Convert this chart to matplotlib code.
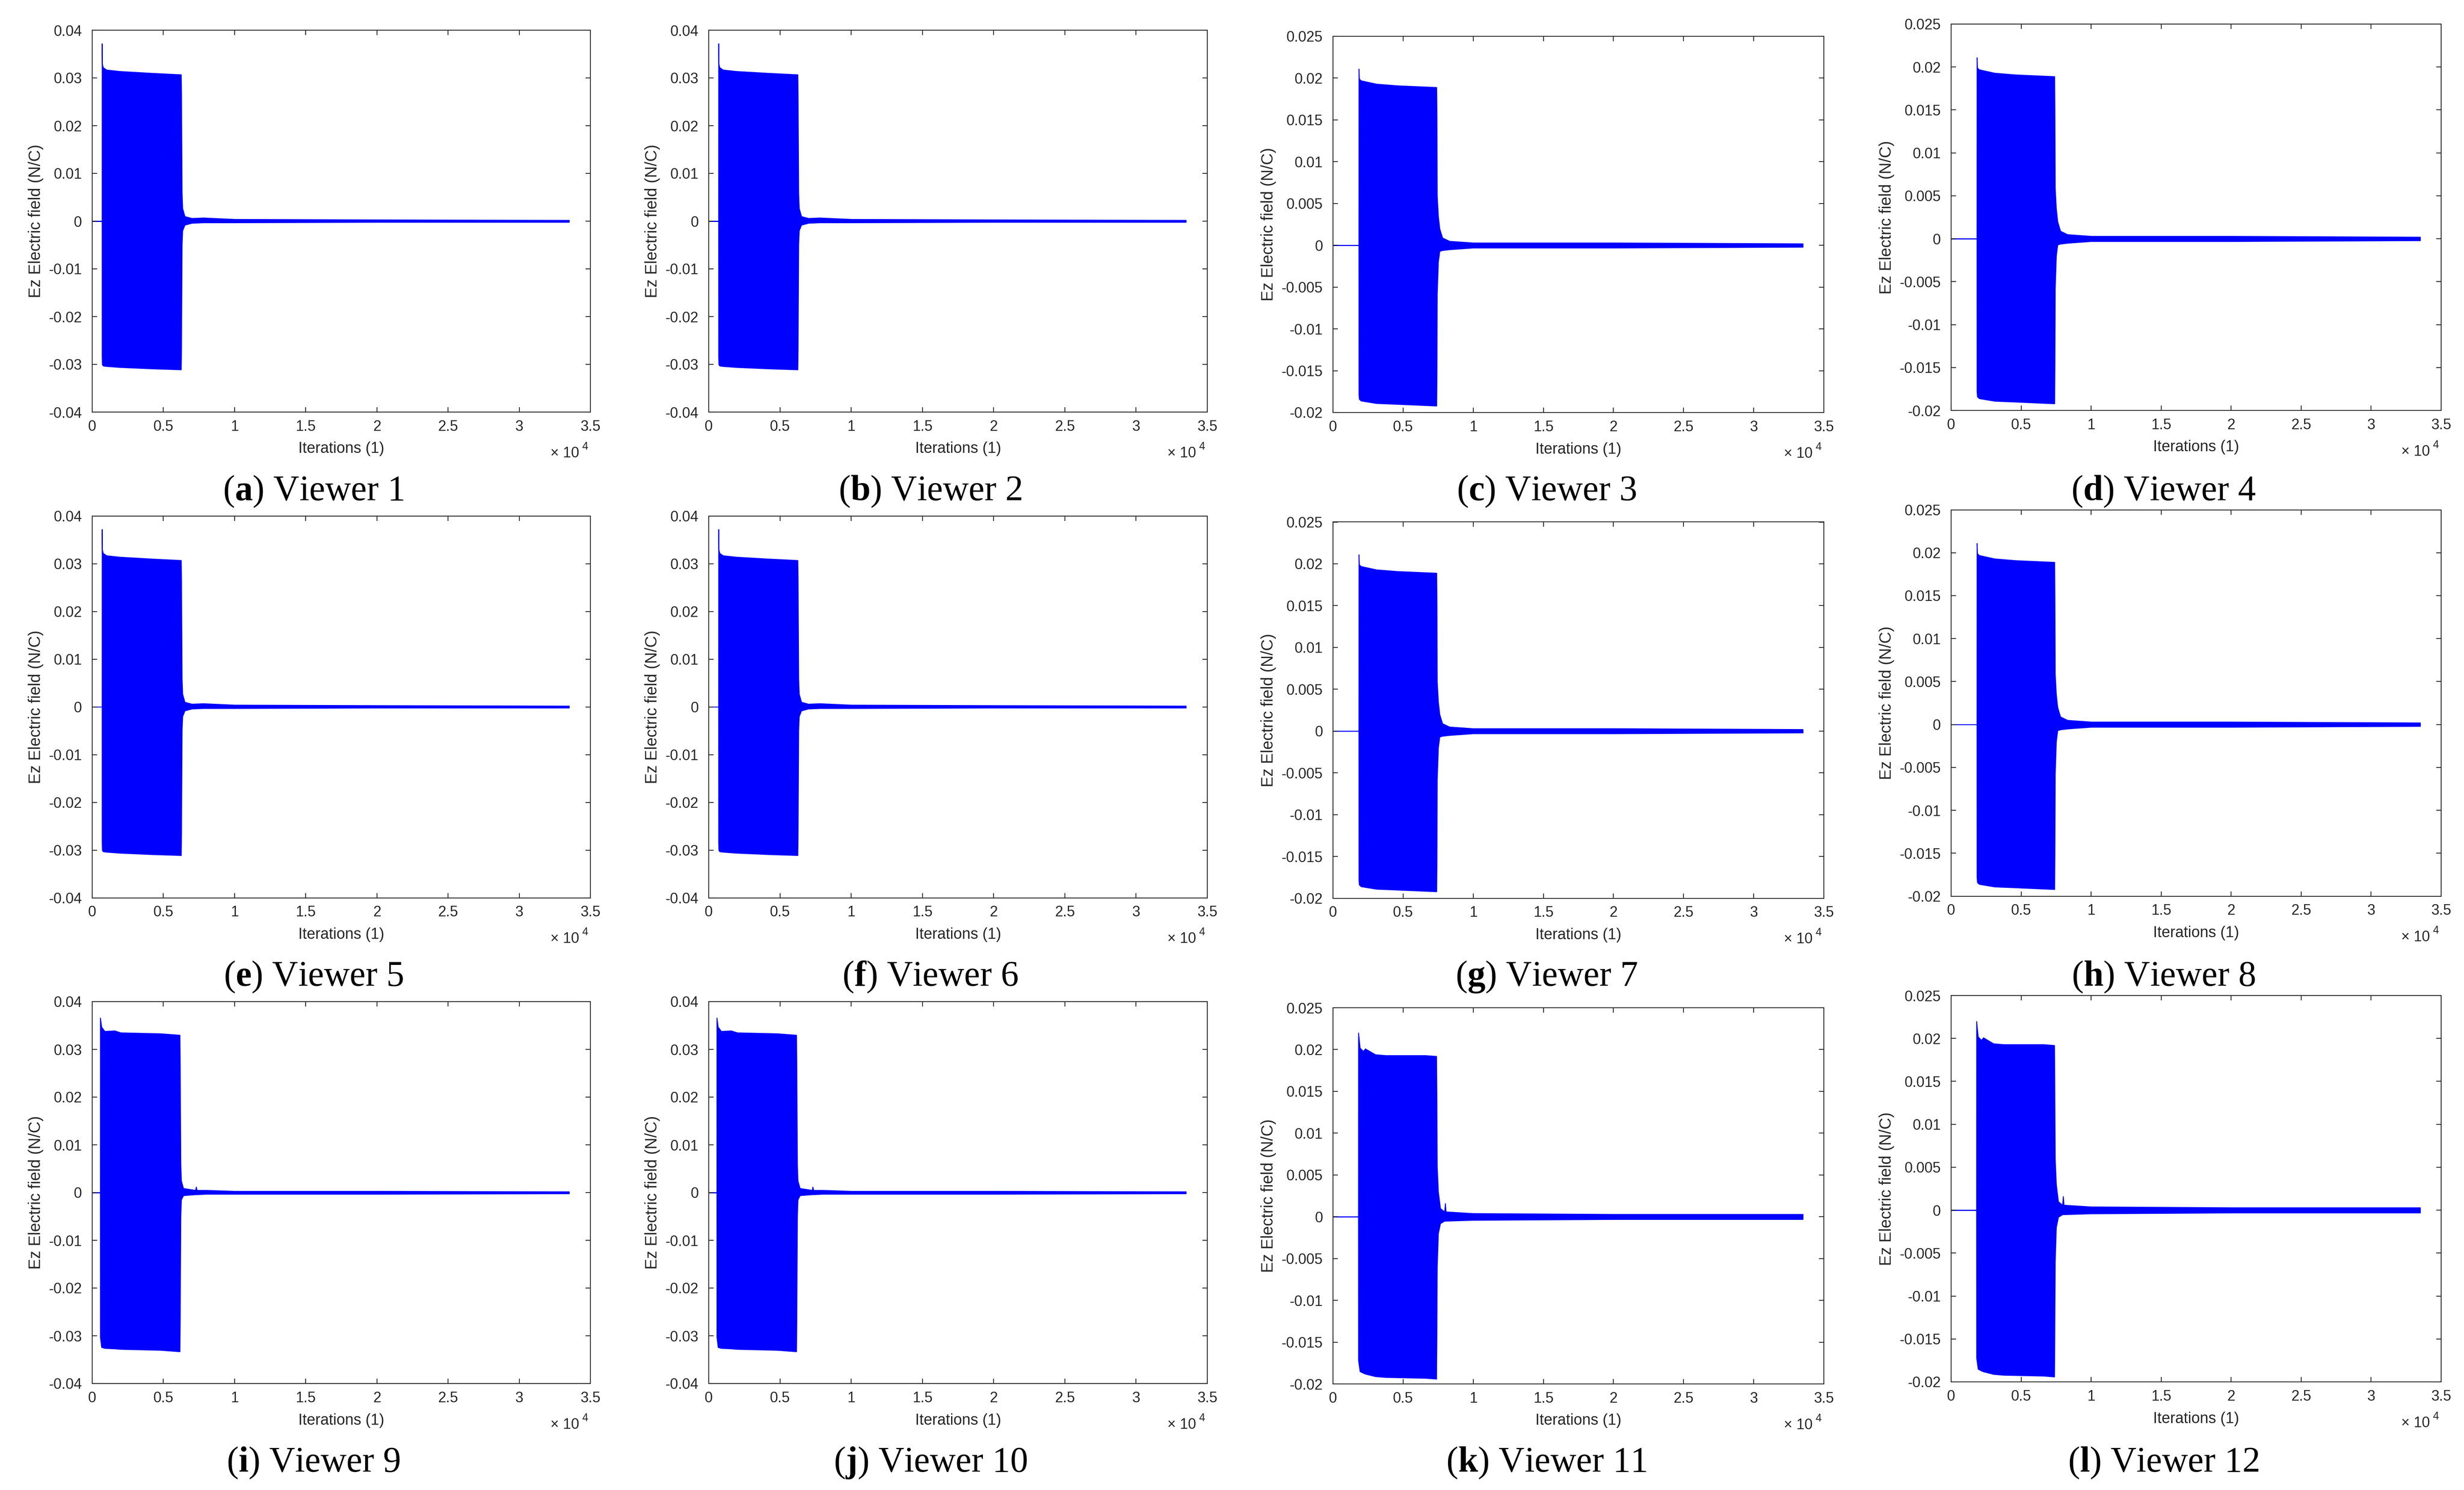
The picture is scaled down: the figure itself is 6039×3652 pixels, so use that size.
import matplotlib
matplotlib.use('Agg')
import matplotlib.pyplot as plt
from matplotlib.ticker import FuncFormatter

# envelope of the Ez signal (iteration, max, min)
# viewers 1, 2, 5, 6
iters_a = [0, 684, 686, 700, 760, 1000, 1900, 4200, 6240, 6260, 6300, 6340, 6500, 7000, 7800, 10000, 20000, 33500]
upper_a = [0, 0, 0.0372, 0.0330, 0.0322, 0.0317, 0.0314, 0.0310, 0.0307, 0.0266, 0.0060, 0.0027, 0.0010, 0.0006, 0.0007, 0.0004, 0.0003, 0.0002]
lower_a = [0, 0, -0.0284, -0.0300, -0.0303, -0.0304, -0.0306, -0.0309, -0.0311, -0.0266, -0.0050, -0.0020, -0.0008, -0.0004, -0.0003, -0.0003, -0.0002, -0.0002]

# viewers 3, 4, 7, 8
iters_c = [0, 1835, 1840, 1870, 2000, 3100, 4600, 7380, 7400, 7420, 7500, 7600, 7800, 8300, 10000, 20000, 33500]
upper_c = [0, 0, 0.0211, 0.0199, 0.0197, 0.0193, 0.0191, 0.0189, 0.0150, 0.0059, 0.0035, 0.0020, 0.0009, 0.0005, 0.0003, 0.0003, 0.0002]
lower_c = [0, 0, -0.0178, -0.0184, -0.0186, -0.0189, -0.0190, -0.0192, -0.0150, -0.0058, -0.0020, -0.0007, -0.0006, -0.0005, -0.0003, -0.0003, -0.0002]

# viewers 9, 10
iters_i = [0, 562, 565, 650, 875, 1580, 2000, 4830, 6150, 6170, 6210, 6250, 6400, 7250, 7300, 7350, 8000, 10000, 20000, 33500]
upper_i = [0, 0, 0.0366, 0.0347, 0.0338, 0.0339, 0.0335, 0.0333, 0.0330, 0.0260, 0.0060, 0.0025, 0.0009, 0.0005, 0.0012, 0.0005, 0.0005, 0.0003, 0.0003, 0.0002]
lower_i = [0, 0, -0.0303, -0.0324, -0.0326, -0.0327, -0.0328, -0.0330, -0.0333, -0.0260, -0.0050, -0.0015, -0.0006, -0.0004, -0.0004, -0.0004, -0.0003, -0.0003, -0.0003, -0.0002]

# viewers 11, 12
iters_k = [0, 1805, 1810, 1920, 2155, 2300, 3020, 3750, 6600, 7370, 7390, 7420, 7500, 7650, 7950, 8000, 8050, 10000, 20000, 33500]
upper_k = [0, 0, 0.0220, 0.0202, 0.0198, 0.0201, 0.0194, 0.0193, 0.0193, 0.0192, 0.0150, 0.0060, 0.0030, 0.0010, 0.0006, 0.0016, 0.0006, 0.0004, 0.0003, 0.0003]
lower_k = [0, 0, -0.0172, -0.0185, -0.0187, -0.0188, -0.0191, -0.0192, -0.0193, -0.0194, -0.0150, -0.0060, -0.0020, -0.0008, -0.0005, -0.0005, -0.0005, -0.0004, -0.0003, -0.0003]

viewer_letters = ['a', 'b', 'c', 'd', 'e', 'f', 'g', 'h', 'i', 'j', 'k', 'l']
viewer_group = ['a', 'a', 'c', 'c', 'a', 'a', 'c', 'c', 'i', 'i', 'k', 'k']

W, H = 6039, 3652
BLUE = '#0000ff'
DARK = '#262626'

plt.rcParams['mathtext.fontset'] = 'custom'
plt.rcParams['mathtext.rm'] = 'Liberation Serif'
plt.rcParams['mathtext.bf'] = 'Liberation Serif:bold'
plt.rcParams['font.family'] = ['Liberation Sans', 'DejaVu Sans']

envelopes = {
    'a': (iters_a, upper_a, lower_a),
    'c': (iters_c, upper_c, lower_c),
    'i': (iters_i, upper_i, lower_i),
    'k': (iters_k, upper_k, lower_k),
}
ylims = {
    'a': (-0.04, 0.04, 0.01),
    'c': (-0.02, 0.025, 0.005),
    'i': (-0.04, 0.04, 0.01),
    'k': (-0.02, 0.025, 0.005),
}

# axes boxes in pixels
col_left = [226, 1737, 3267, 4782]
col_right = [1447, 2959, 4470, 5983]
col_top = [74, 74, 89, 59]
col_bottom = [1010, 1010, 1011, 1006]
row_step = 1190.5
cap_x = [768, 2280, 3790, 5302]
cap_base = [1226, 2416, 3607]

fig = plt.figure(figsize=(W / 300, H / 300), dpi=300)

for n in range(12):
    r, c = divmod(n, 4)
    top = col_top[c] + r * row_step
    bottom = col_bottom[c] + r * row_step
    ax = fig.add_axes([col_left[c] / W, 1 - bottom / H,
                       (col_right[c] - col_left[c]) / W, (bottom - top) / H])

    g = viewer_group[n]
    xs, up, lo = envelopes[g]
    ax.fill_between(xs, lo, up, facecolor=BLUE, edgecolor=BLUE, linewidth=0.5)

    y0, y1, step = ylims[g]
    ax.set_xlim(0, 35000)
    ax.set_ylim(y0, y1)
    ax.set_xticks(range(0, 35001, 5000))
    nt = int(round((y1 - y0) / step))
    ax.set_yticks([round(y0 + k * step, 4) for k in range(nt + 1)])
    ax.xaxis.set_major_formatter(FuncFormatter(lambda v, p: '%g' % (v / 1e4)))
    ax.yaxis.set_major_formatter(FuncFormatter(lambda v, p: '%g' % round(v, 4)))

    ax.tick_params(direction='in', length=2.9, width=0.5, top=True, right=True,
                   labelsize=8.6, color=DARK, labelcolor=DARK)
    ax.tick_params(axis='y', pad=6)
    ax.tick_params(axis='x', pad=4.5)
    for s in ax.spines.values():
        s.set_linewidth(0.5)
        s.set_color(DARK)

    ax.set_xlabel('Iterations (1)', fontsize=9, color=DARK, labelpad=4.5)
    ax.set_ylabel('Ez Electric field (N/C)', fontsize=9.5, color=DARK, labelpad=3)
    ax.annotate('× 10', xy=(1, 0), xycoords='axes fraction',
                xytext=(-6.5, -26.6), textcoords='offset points',
                ha='right', va='baseline', fontsize=8.6, color=DARK)
    ax.annotate('4', xy=(1, 0), xycoords='axes fraction',
                xytext=(-1.5, -22.0), textcoords='offset points',
                ha='right', va='baseline', fontsize=6.4, color=DARK)

    fig.text(cap_x[c] / W, 1 - cap_base[r] / H,
             '($\\mathbf{%s}$) Viewer %d' % (viewer_letters[n], n + 1),
             ha='center', va='baseline', fontsize=21, family='Liberation Serif')

fig.savefig('out.png', dpi=300)
